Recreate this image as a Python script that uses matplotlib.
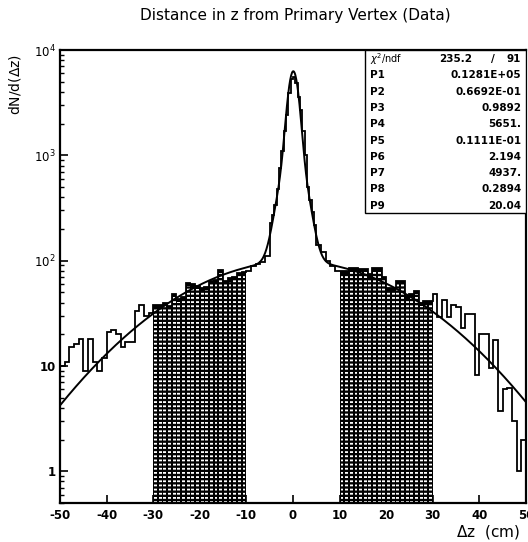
import numpy as np
import matplotlib
matplotlib.use("Agg")
import matplotlib.pyplot as plt
from matplotlib.patches import Rectangle

plt.rcParams['font.family'] = ['DejaVu Sans']
plt.rcParams['hatch.linewidth'] = 1.3

# bin edges: 1 cm outside the core, 0.5 cm around the vertex
edges = np.concatenate([np.arange(-50, -5, 1.0),
                        np.arange(-5, 5, 0.5),
                        np.arange(5, 50.5, 1.0)])

counts_left = [10, 11, 15, 16, 18, 9, 18, 11, 9, 12,
               21, 22, 20, 15, 17, 17, 33, 38, 30, 32,
               38, 38, 40, 37, 48, 43, 45, 62, 60, 58,
               55, 56, 64, 66, 82, 64, 68, 70, 76, 78,
               80, 88, 92, 98, 110]
counts_core = [230, 270, 340, 480, 760, 1100, 1700, 2400, 3900, 5300,
               5600, 4900, 3600, 2700, 1700, 1000, 500, 380, 290, 220]
counts_right = [140, 120, 100, 88, 80,
                80, 80, 86, 86, 84, 84, 74, 86, 86, 70,
                55, 55, 64, 64, 46, 48, 52, 40, 41, 41,
                48, 29, 42, 29, 38, 36, 23, 31, 31, 8.2,
                20, 20, 9.6, 17.8, 3.7, 6.0, 6.2, 3.0, 1.0, 2.0]
counts = np.array(counts_left + counts_core + counts_right, dtype=float)

# fit: three gaussians (area, mean, sigma)
chi2_ndf = ("235.2", "91")
par_names = ["P1", "P2", "P3", "P4", "P5", "P6", "P7", "P8", "P9"]
par_text = ["0.1281E+05", "0.6692E-01", "0.9892", "5651.", "0.1111E-01",
            "2.194", "4937.", "0.2894", "20.04"]
pars = [float(p) for p in par_text]

sideband_ranges = [(-30, -10), (10, 30)]


def fit_func(x, p):
    y = np.zeros_like(x)
    for a, mu, sig in zip(p[0::3], p[1::3], p[2::3]):
        y += a / (np.sqrt(2 * np.pi) * sig) * np.exp(-0.5 * ((x - mu) / sig) ** 2)
    return y


fig = plt.figure(figsize=(5.28, 5.42), dpi=100)
ax = fig.add_axes([0.1136, 0.072, 0.8826, 0.8357])
ax.set_yscale('log')
ax.set_xlim(-50, 50)
ax.set_ylim(0.5, 1e4)

# shaded sidebands: solid fill with dashed white columns per bin
for lo, hi in sideband_ranges:
    i0 = np.searchsorted(edges, lo)
    i1 = np.searchsorted(edges, hi)
    ax.stairs(counts[i0:i1], edges[i0:i1 + 1], fill=True, baseline=0.1,
              facecolor='black', linewidth=0)
    left = edges[i0:i1]
    width = np.diff(edges[i0:i1 + 1])
    ax.bar(left + 0.2 * width, counts[i0:i1] * 0.93, width=0.6 * width,
           align='edge', bottom=0.1, facecolor='black', edgecolor='white',
           hatch='----', linewidth=0)

ax.stairs(counts, edges, baseline=0.1, color='black', linewidth=1.3)

xf = np.linspace(-50, 50, 1001)
ax.plot(xf, fit_func(xf, pars), color='black', linewidth=1.4)

# axes styling
for side in ['left', 'bottom', 'top', 'right']:
    ax.spines[side].set_linewidth(1.6)
ax.tick_params(which='both', direction='in', top=False, right=False)
ax.tick_params(which='major', length=6, width=1.2, labelsize=8.5)
ax.tick_params(which='minor', length=3, width=1.0)
ax.set_xticks(np.arange(-50, 51, 10))
ax.set_xticklabels([str(v) for v in range(-50, 51, 10)], fontweight='bold')
ax.set_yticks([1, 10, 100, 1000, 10000])
ax.set_yticklabels(['1', '10', '$10^{2}$', '$10^{3}$', '$10^{4}$'],
                   fontweight='bold')
ax.tick_params(axis='x', pad=4)
ax.tick_params(axis='y', pad=3)

fig.text(0.56, 0.972, 'Distance in z from Primary Vertex (Data)',
         ha='center', va='center', fontsize=11)
fig.text(0.028, 0.90, r'dN/d($\Delta$z)', rotation=90,
         ha='center', va='top', fontsize=10)
fig.text(0.985, 0.018, r'$\Delta$z  (cm)', ha='right', va='center',
         fontsize=11)

# statistics box
bx0, by0 = 0.654, 0.640
ax.add_patch(Rectangle((bx0, by0), 1 - bx0, 1 - by0, transform=ax.transAxes,
                       facecolor='white', edgecolor='black', linewidth=1.0,
                       zorder=5))
row_h = (1 - by0) / 10
ytop = 1 - row_h * 0.55
ax.text(bx0 + 0.012, ytop, r'$\chi^2$/ndf', transform=ax.transAxes,
        fontsize=7, va='center', zorder=6)
ax.text(bx0 + 0.16, ytop, chi2_ndf[0], transform=ax.transAxes,
        fontsize=7.5, fontweight='bold', va='center', zorder=6)
ax.text(bx0 + 0.27, ytop, '/', transform=ax.transAxes,
        fontsize=7.5, fontweight='bold', va='center', zorder=6)
ax.text(0.99, ytop, chi2_ndf[1], transform=ax.transAxes, ha='right',
        fontsize=7.5, fontweight='bold', va='center', zorder=6)
for k, (name, val) in enumerate(zip(par_names, par_text)):
    yy = ytop - row_h * (k + 1)
    ax.text(bx0 + 0.012, yy, name, transform=ax.transAxes, fontsize=7.5,
            fontweight='bold', va='center', zorder=6)
    ax.text(0.99, yy, val, transform=ax.transAxes, ha='right', fontsize=7.5,
            fontweight='bold', va='center', zorder=6)

fig.savefig('out.png', dpi=100)
